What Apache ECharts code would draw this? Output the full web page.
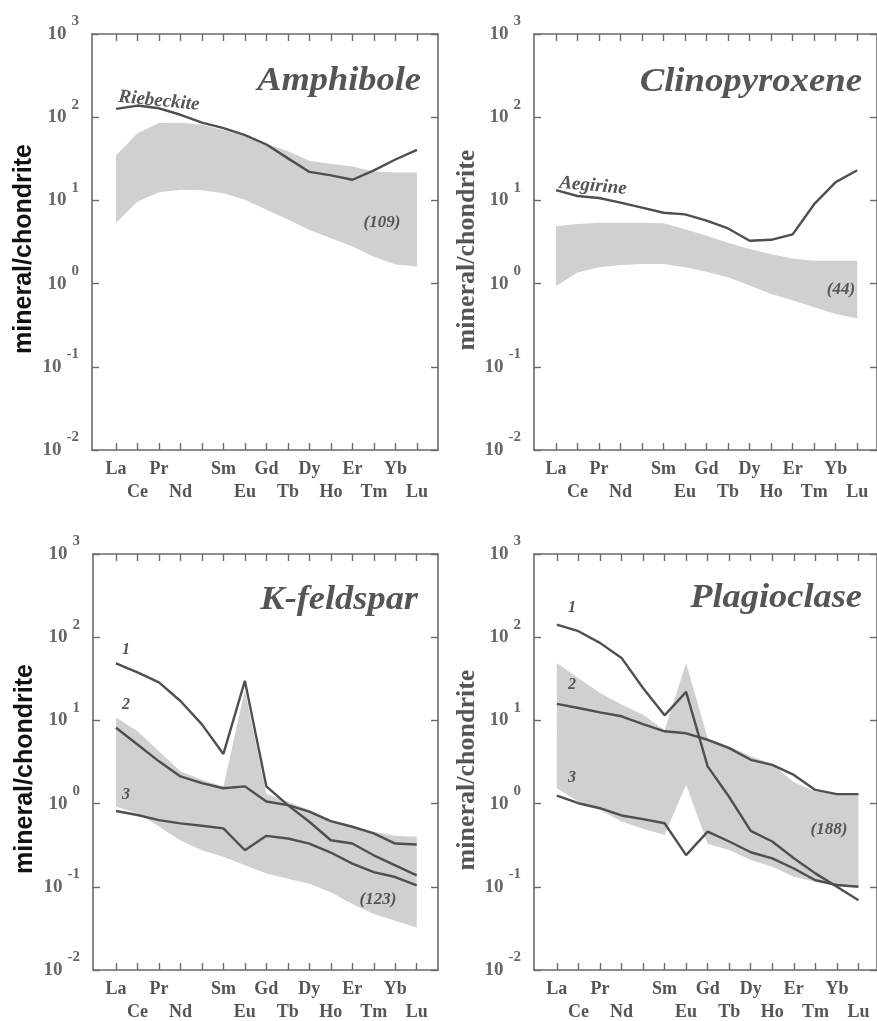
<!DOCTYPE html>
<html>
<head>
<meta charset="utf-8">
<script src="https://cdn.jsdelivr.net/npm/echarts@6/dist/echarts.min.js"></script>
<style>
  html, body { margin: 0; padding: 0; background: #ffffff; }
  #chart { width: 877px; height: 1021px; }
</style>
</head>
<body>
<div id="chart"></div>
<script>
// Rare-earth elements in order; Pm has a tick but no label
const elements = ['La', 'Ce', 'Pr', 'Nd', 'Pm', 'Sm', 'Eu', 'Gd', 'Tb', 'Dy', 'Ho', 'Er', 'Tm', 'Yb', 'Lu'];
// symbols on the upper and lower label rows
const upperRow = ['La', 'Pr', 'Sm', 'Gd', 'Dy', 'Er', 'Yb'];
const lowerRow = ['Ce', 'Nd', 'Eu', 'Tb', 'Ho', 'Tm', 'Lu'];

// Amphibole: riebeckite pattern and the field of all analyses
const amphRiebeckite = [126, 138, 128, 107, 86, 74, 61, 47, 32, 22, 20, 17.7, 23, 31, 40.5];
const amphFieldHigh = [35, 64, 85, 86, 81, 70, 59, 48, 39, 30, 27.5, 25.6, 22.3, 21.7, 21.7];
const amphFieldLow = [5.4, 9.7, 12.5, 13.4, 13.2, 12.2, 10.2, 7.7, 5.9, 4.4, 3.5, 2.8, 2.1, 1.7, 1.6];

// Clinopyroxene: aegirine pattern and field
const cpxAegirine = [13.3, 11.3, 10.7, 9.4, 8.2, 7.1, 6.8, 5.7, 4.6, 3.27, 3.36, 3.9, 9.0, 16.6, 23];
const cpxFieldHigh = [4.9, 5.2, 5.4, 5.4, 5.4, 5.3, 4.5, 3.75, 3.1, 2.6, 2.26, 2.0, 1.88, 1.88, 1.88];
const cpxFieldLow = [0.93, 1.36, 1.57, 1.67, 1.72, 1.72, 1.57, 1.39, 1.19, 0.95, 0.75, 0.63, 0.52, 0.43, 0.38];

// K-feldspar: patterns 1-3 and field
const kfs1 = [48.5, 37.8, 28.6, 17.1, 8.95, 3.95, 29.9, 1.61, 0.96, 0.605, 0.363, 0.331, 0.239, 0.181, 0.137];
const kfs2 = [8.15, 5.13, 3.22, 2.12, 1.76, 1.53, 1.61, 1.06, 0.96, 0.8, 0.617, 0.527, 0.438, 0.331, 0.322];
const kfs3 = [0.815, 0.73, 0.634, 0.578, 0.542, 0.503, 0.275, 0.41, 0.381, 0.331, 0.258, 0.19, 0.15, 0.131, 0.104];
const kfsFieldHigh = [10.8, 7.4, 4.26, 2.44, 1.93, 1.6, 23, 1.3, 1.06, 0.84, 0.63, 0.53, 0.46, 0.41, 0.4];
const kfsFieldLow = [0.92, 0.76, 0.53, 0.36, 0.275, 0.229, 0.181, 0.144, 0.125, 0.109, 0.086, 0.062, 0.047, 0.039, 0.0325];

// Plagioclase: patterns 1-3 and field
const plg1 = [142, 118, 85.5, 56.4, 24.5, 11.5, 22, 2.8, 1.2, 0.47, 0.35, 0.22, 0.145, 0.1, 0.069];
const plg2 = [15.8, 14.1, 12.5, 11.2, 9.0, 7.4, 7.0, 5.85, 4.64, 3.36, 2.92, 2.21, 1.46, 1.3, 1.3];
const plg3 = [1.25, 1.01, 0.88, 0.72, 0.65, 0.58, 0.24, 0.46, 0.35, 0.26, 0.22, 0.166, 0.12, 0.105, 0.1];
const plgFieldHigh = [49, 32, 21.3, 15.5, 11.7, 7.6, 49, 6.1, 4.9, 3.7, 3.0, 1.8, 1.4, 1.3, 1.25];
const plgFieldLow = [1.53, 1.06, 0.84, 0.61, 0.5, 0.42, 1.68, 0.33, 0.277, 0.21, 0.174, 0.132, 0.115, 0.105, 0.1];

const LINE = '#4f4f4f';
const FRAME = '#6b6b6b';
const TEXT = '#555555';
const FIELD = '#d0d0d0';
const SERIF = '"Liberation Serif", "Times New Roman", serif';

const panels = [
  { grid: { left: 92, top: 34, width: 346, height: 416 }, xMin: -1.12, xMax: 14.98,
    field: [amphFieldHigh, amphFieldLow], lines: [amphRiebeckite], nameStyle: 'sans', nameGap: 68 },
  { grid: { left: 534, top: 34, width: 345, height: 416 }, xMin: -1.02, xMax: 14.92,
    field: [cpxFieldHigh, cpxFieldLow], lines: [cpxAegirine], nameStyle: 'serif', nameGap: 66 },
  { grid: { left: 93, top: 554, width: 345, height: 416 }, xMin: -1.07, xMax: 14.99,
    field: [kfsFieldHigh, kfsFieldLow], lines: [kfs1, kfs2, kfs3], nameStyle: 'sans', nameGap: 68 },
  { grid: { left: 534, top: 554, width: 345, height: 416 }, xMin: -1.06, xMax: 14.86,
    field: [plgFieldHigh, plgFieldLow], lines: [plg1, plg2, plg3], nameStyle: 'serif', nameGap: 66 }
];

const idx = elements.map((_, i) => i);
const positionsOf = (row) => row.map((e) => elements.indexOf(e));

// Field polygon: upper edge left to right, then lower edge back
function fieldRenderer(high, low) {
  return function (params, api) {
    if (params.dataIndex !== 0) return null;
    const pts = [];
    high.forEach((v, i) => pts.push(api.coord([i, v])));
    for (let i = low.length - 1; i >= 0; i--) pts.push(api.coord([i, low[i]]));
    return { type: 'polygon', shape: { points: pts }, style: { fill: FIELD } };
  };
}

const grids = [], xAxes = [], yAxes = [], series = [];

panels.forEach((p, k) => {
  grids.push(Object.assign({ containLabel: false }, p.grid));
  const frameLine = { show: true, onZero: false, lineStyle: { color: FRAME, width: 1.6 } };
  const tick = { show: true, inside: true, length: 7, customValues: idx, lineStyle: { color: FRAME, width: 1.4 } };
  const rowLabel = (row, margin) => ({
    customValues: positionsOf(row), margin, color: TEXT, fontFamily: SERIF, fontWeight: 'bold',
    fontSize: 18, showMinLabel: true, showMaxLabel: true,
    formatter: (v) => elements[Math.round(v)]
  });
  // bottom frame edge with the upper row of symbols
  xAxes.push({
    type: 'value', gridIndex: k, position: 'bottom', min: p.xMin, max: p.xMax,
    axisLine: frameLine, axisTick: tick, splitLine: { show: false },
    axisLabel: rowLabel(upperRow, 10)
  });
  // lower row of symbols, staggered below
  xAxes.push({
    type: 'value', gridIndex: k, position: 'bottom', min: p.xMin, max: p.xMax,
    axisLine: { show: false }, axisTick: { show: false }, splitLine: { show: false },
    axisLabel: rowLabel(lowerRow, 33)
  });
  // top frame edge
  xAxes.push({
    type: 'value', gridIndex: k, position: 'top', min: p.xMin, max: p.xMax,
    axisLine: frameLine, axisTick: tick, axisLabel: { show: false }, splitLine: { show: false }
  });
  const yTick = { show: true, inside: true, length: 7, lineStyle: { color: FRAME, width: 1.4 } };
  const nameTextStyle = p.nameStyle === 'sans'
    ? { fontFamily: '"Liberation Sans", Arial, sans-serif', fontWeight: 'bold', fontSize: 25, color: '#111', verticalAlign: 'middle', padding: [0, 14, 0, 0] }
    : { fontFamily: SERIF, fontWeight: 'bold', fontSize: 26, color: TEXT, verticalAlign: 'middle', padding: [0, 16, 0, 0] };
  yAxes.push({
    type: 'log', logBase: 10, gridIndex: k, position: 'left', min: 0.01, max: 1000,
    name: 'mineral/chondrite', nameLocation: 'middle', nameGap: p.nameGap, nameRotate: 90,
    nameTextStyle,
    axisLine: frameLine, axisTick: yTick, splitLine: { show: false }, minorTick: { show: false },
    axisLabel: {
      margin: 13,
      formatter: (v) => '{b|10}{s|' + Math.round(Math.log10(v)) + '}',
      rich: {
        b: { fontFamily: SERIF, fontWeight: 'bold', fontSize: 19, color: '#666', lineHeight: 40 },
        s: { fontFamily: SERIF, fontWeight: 'bold', fontSize: 15, color: '#666', lineHeight: 13, verticalAlign: 'top', padding: [0, 0, 0, 5] }
      }
    }
  });
  yAxes.push({
    type: 'log', logBase: 10, gridIndex: k, position: 'right', min: 0.01, max: 1000,
    axisLine: frameLine, axisTick: yTick, axisLabel: { show: false }, splitLine: { show: false }
  });

  series.push({
    type: 'custom', xAxisIndex: 3 * k, yAxisIndex: 2 * k, silent: true, clip: true, z: 1,
    renderItem: fieldRenderer(p.field[0], p.field[1]),
    data: idx.map((i) => [i, p.field[1][i], p.field[0][i]])
  });
  p.lines.forEach((vals) => {
    series.push({
      type: 'line', xAxisIndex: 3 * k, yAxisIndex: 2 * k, symbol: 'none', silent: true, z: 3,
      lineStyle: { color: LINE, width: 2.4 },
      data: idx.map((i) => [i, vals[i]])
    });
  });
});

function label(text, x, y, size, opts, extra) {
  return Object.assign({
    type: 'text', x, y, z: 10, silent: true,
    style: Object.assign({ text, fill: TEXT, font: 'italic bold ' + size + 'px ' + SERIF, align: 'center', verticalAlign: 'middle' }, opts || {})
  }, extra || {});
}

const titleStyle = { align: 'right', verticalAlign: 'bottom' };
const graphics = [
  // panel titles
  label('Amphibole', 421, 98, 34, titleStyle, { scaleX: 1.07 }),
  label('Clinopyroxene', 862, 99, 34, titleStyle, { scaleX: 1.08 }),
  label('K-feldspar', 418, 617, 34, titleStyle, { scaleX: 1.07 }),
  label('Plagioclase', 862, 615, 34, titleStyle, { scaleX: 1.07 }),
  // pattern names and analysis counts
  label('Riebeckite', 159, 101, 19, null, { rotation: -0.1 }),
  label('Aegirine', 593, 186, 19, null, { rotation: -0.09 }),
  label('(109)', 382, 223, 17),
  label('(44)', 841, 290, 17),
  label('(123)', 378, 900, 17),
  label('(188)', 829, 830, 17),
  label('1', 126, 650, 16), label('2', 126, 705, 16), label('3', 126, 795, 16),
  label('1', 572, 608, 16), label('2', 572, 685, 16), label('3', 572, 778, 16)
];

const chart = echarts.init(document.getElementById('chart'), null, { renderer: 'canvas' });
chart.setOption({
  backgroundColor: '#ffffff',
  animation: false,
  grid: grids,
  xAxis: xAxes,
  yAxis: yAxes,
  series,
  graphic: graphics
});
</script>
</body>
</html>
